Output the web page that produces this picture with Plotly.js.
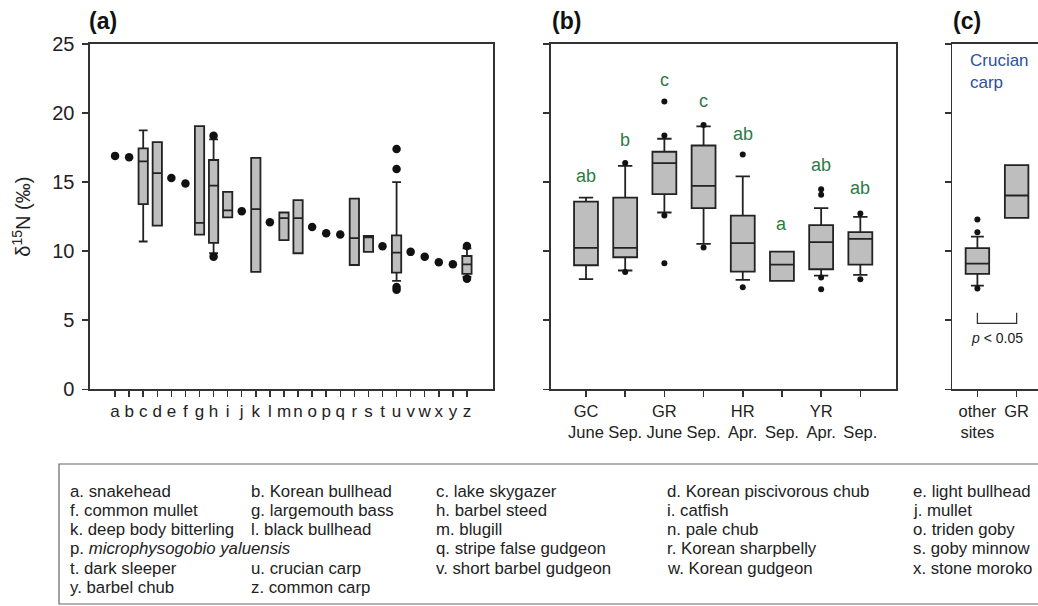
<!DOCTYPE html>
<html>
<head>
<meta charset="utf-8">
<script src="https://cdn.plot.ly/plotly-3.0.1.min.js"></script>
<style>html,body{margin:0;padding:0;background:#fff;}#chart{width:1038px;height:606px;}</style>
</head>
<body>
<div id="chart"></div>
<script>
// ---------- Panel (a): species ----------
const speciesCodes = ['a','b','c','d','e','f','g','h','i','j','k','l','m','n','o','p','q','r','s','t','u','v','w','x','y','z'];
const speciesNames = ['snakehead','Korean bullhead','lake skygazer','Korean piscivorous chub','light bullhead',
  'common mullet','largemouth bass','barbel steed','catfish','mullet',
  'deep body bitterling','black bullhead','blugill','pale chub','triden goby',
  '<i>microphysogobio yaluensis</i>','stripe false gudgeon','Korean sharpbelly','goby minnow',
  'dark sleeper','crucian carp','short barbel gudgeon','Korean gudgeon','stone moroko',
  'barbel chub','common carp'];

// single-value species
const singleCodes  = ['a','b','e','f','j','l','o','p','q','t','v','w','x','y'];
const singleValues = [16.9,16.8,15.3,14.9,12.9,12.1,11.75,11.3,11.2,10.35,9.95,9.6,9.2,9.05];

// box species
const boxCodes   = ['c','d','g','h','i','k','m','n','r','s','u','z'];
const boxQ1      = [13.4,11.85,11.2,10.6,12.45,8.5,10.8,9.85,9.0,9.95,8.45,8.35];
const boxMedian  = [16.5,15.65,12.05,14.75,12.95,13.05,12.4,12.4,10.95,11.0,9.9,9.05];
const boxQ3      = [17.45,17.9,19.05,16.6,14.3,16.75,12.8,13.7,13.8,11.1,11.15,9.65];
const boxLow     = [10.7,11.85,11.2,9.85,12.45,8.5,10.8,9.85,9.0,9.95,7.85,8.15];
const boxHigh    = [18.75,17.9,19.05,18.1,14.3,16.75,12.8,13.7,13.8,11.1,15.0,10.2];
const outACodes  = ['h','h','u','u','u','u','z','z'];
const outAValues = [18.35,9.6,17.4,15.95,7.4,7.2,10.38,8.0];

// ---------- Panel (b): sites ----------
const siteCats   = ['GC June','GC Sep.','GR June','GR Sep.','HR Apr.','HR Sep.','YR Apr.','YR Sep.'];
const siteTicks  = ['GC<br>June',' <br>Sep.','GR<br>June',' <br>Sep.','HR<br>Apr.',' <br>Sep.','YR<br>Apr.',' <br>Sep.'];
const siteQ1     = [8.98,9.56,14.13,13.11,8.52,7.85,8.69,9.03];
const siteMedian = [10.24,10.24,16.38,14.73,10.58,9.03,10.65,10.89];
const siteQ3     = [13.59,13.88,17.2,17.65,12.58,9.97,11.88,11.38];
const siteLow    = [7.97,8.6,12.8,10.53,7.92,7.85,8.23,8.28];
const siteHigh   = [13.88,16.18,18.14,19.03,15.41,9.97,13.11,12.49];
const outBCats   = ['GC Sep.','GC Sep.','GR June','GR June','GR June','GR June','GR Sep.','GR Sep.','HR Apr.','HR Apr.','YR Apr.','YR Apr.','YR Apr.','YR Apr.','YR Sep.','YR Sep.'];
const outBValues = [16.38,8.5,20.84,18.38,12.58,9.13,19.13,10.26,17.0,7.39,14.49,14.08,8.1,7.25,12.73,7.97];
const sigLetters = ['ab','b','c','c','ab','a','ab','ab'];
const sigY       = [15.41,18.07,22.4,20.84,18.5,11.98,16.25,14.61];

// ---------- Panel (c): crucian carp ----------
const carpCats   = ['other sites','GR'];
const carpTicks  = ['other<br>sites','GR'];
const carpQ1     = [8.35,12.41];
const carpMedian = [9.1,14.03];
const carpQ3     = [10.22,16.23];
const carpLow    = [7.5,12.41];
const carpHigh   = [11.06,16.23];
const outCCats   = ['other sites','other sites','other sites'];
const outCValues = [12.3,11.37,7.29];
const bracketTop = 5.55, bracketBottom = 4.78, pLabelY = 3.7;

// ---------- Styling ----------
const W = 1038, H = 606;
const FONT = 'Liberation Sans, Arial, Helvetica, sans-serif';
const INK = '#222';
const BOXFILL = '#bebebe';
const GREEN = '#2e7a48';
const BLUE = '#2c4fa3';
const px = v => v / W;
const py = v => 1 - v / H;
const yDom = [py(389.3), py(44)];

const boxStyle = {type:'box', orientation:'v', boxpoints:false, fillcolor:BOXFILL,
  line:{color:INK, width:1.8}, hoverinfo:'skip', showlegend:false};

const traces = [
  Object.assign({}, boxStyle, {x:boxCodes, q1:boxQ1, median:boxMedian, q3:boxQ3,
    lowerfence:boxLow, upperfence:boxHigh, width:0.66, whiskerwidth:0.95, xaxis:'x', yaxis:'y'}),
  {type:'scatter', mode:'markers', x:singleCodes, y:singleValues, xaxis:'x', yaxis:'y',
    marker:{color:'#111', size:8.5}, hoverinfo:'skip', showlegend:false},
  {type:'scatter', mode:'markers', x:outACodes, y:outAValues, xaxis:'x', yaxis:'y',
    marker:{color:'#111', size:8.5}, hoverinfo:'skip', showlegend:false},

  Object.assign({}, boxStyle, {x:siteCats, q1:siteQ1, median:siteMedian, q3:siteQ3,
    lowerfence:siteLow, upperfence:siteHigh, width:0.61, whiskerwidth:0.6, xaxis:'x2', yaxis:'y2'}),
  {type:'scatter', mode:'markers', x:outBCats, y:outBValues, xaxis:'x2', yaxis:'y2',
    marker:{color:'#111', size:6}, hoverinfo:'skip', showlegend:false},

  Object.assign({}, boxStyle, {x:carpCats, q1:carpQ1, median:carpMedian, q3:carpQ3,
    lowerfence:carpLow, upperfence:carpHigh, width:0.6, whiskerwidth:0.55, xaxis:'x3', yaxis:'y3'}),
  {type:'scatter', mode:'markers', x:outCCats, y:outCValues, xaxis:'x3', yaxis:'y3',
    marker:{color:'#111', size:6}, hoverinfo:'skip', showlegend:false}
];

const axisLine = {showline:true, linecolor:'#333', linewidth:1.6, showgrid:false, zeroline:false,
  ticks:'outside', ticklen:6, tickwidth:1.5, tickcolor:'#333'};

const yTicks = [0,5,10,15,20,25];

const layout = {
  width:W, height:H, margin:{l:0,r:0,t:0,b:0},
  paper_bgcolor:'#fff', plot_bgcolor:'#fff',
  font:{family:FONT, color:INK},
  xaxis: Object.assign({}, axisLine, {domain:[px(90), px(493)], anchor:'y', type:'category',
    categoryorder:'array', categoryarray:speciesCodes, range:[-1.78, 26.85], mirror:true,
    tickmode:'array', tickvals:speciesCodes, ticktext:speciesCodes, tickangle:0,
    tickfont:{size:17, color:INK}}),
  yaxis: Object.assign({}, axisLine, {domain:yDom, anchor:'x', range:[0,25], tickvals:yTicks,
    mirror:true, tickfont:{size:20, color:INK}, ticklabelstandoff:4,
    title:{text:'δ<sup>15</sup>N (‰)', font:{size:20, color:INK}, standoff:16}}),

  xaxis2: Object.assign({}, axisLine, {domain:[px(551), px(896)], anchor:'y2', type:'category',
    categoryorder:'array', categoryarray:siteCats, range:[-0.893, 7.91], mirror:true,
    tickmode:'array', tickvals:siteCats, ticktext:siteTicks, tickangle:0,
    tickfont:{size:16.5, color:INK}}),
  yaxis2: Object.assign({}, axisLine, {domain:yDom, anchor:'x2', range:[0,25], tickvals:yTicks,
    showticklabels:false, mirror:true}),

  xaxis3: Object.assign({}, axisLine, {domain:[px(952.3), 1], anchor:'y3', type:'category',
    categoryorder:'array', categoryarray:carpCats, range:[-0.64, 1.545], mirror:true,
    tickmode:'array', tickvals:carpCats, ticktext:carpTicks, tickangle:0,
    tickfont:{size:16.5, color:INK}}),
  yaxis3: Object.assign({}, axisLine, {domain:yDom, anchor:'x3', range:[0,25], tickvals:yTicks,
    showticklabels:false, mirror:false}),

  annotations: [],
  shapes: []
};

// panel labels
[['(a)',87],['(b)',550],['(c)',951]].forEach(([t,x]) => {
  layout.annotations.push({text:'<b>'+t+'</b>', xref:'paper', yref:'paper', x:px(x), y:py(21),
    xanchor:'left', yanchor:'middle', showarrow:false, font:{size:23, color:'#111'}});
});

// significance letters
sigLetters.forEach((t,i) => {
  layout.annotations.push({text:t, xref:'x2', yref:'y2', x:siteCats[i], y:sigY[i],
    showarrow:false, font:{size:18, color:GREEN}, xanchor:'center', yanchor:'middle'});
});

// Crucian carp label
layout.annotations.push({text:'Crucian<br>carp', xref:'paper', yref:'paper', x:px(968), y:py(49),
  xanchor:'left', yanchor:'top', align:'left', showarrow:false, font:{size:17, color:BLUE}});

// bracket + p-value
layout.shapes.push({type:'path', xref:'x3', yref:'y3',
  path:'M0,'+bracketTop+' L0,'+bracketBottom+' L1,'+bracketBottom+' L1,'+bracketTop,
  line:{color:'#333', width:1.3}});
layout.annotations.push({text:'<i>p</i> < 0.05', xref:'x3', yref:'y3', x:0.5, y:pLabelY,
  showarrow:false, font:{size:14, color:INK}, xanchor:'center', yanchor:'middle'});

// species key box
layout.shapes.push({type:'rect', xref:'paper', yref:'paper', x0:px(59), x1:1.02, y0:py(604), y1:py(464),
  line:{color:'#666', width:1.2}, fillcolor:'rgba(0,0,0,0)'});
const colX = [68, 249, 434, 665, 911];
const rowY0 = 491, rowStep = 19.3;
let slot = 0;
speciesCodes.forEach((c,i) => {
  const row = Math.floor(slot/5), col = slot % 5;
  layout.annotations.push({text:c+'. '+speciesNames[i], xref:'paper', yref:'paper',
    x:px(colX[col]), y:py(rowY0 + row*rowStep), xanchor:'left', yanchor:'middle',
    showarrow:false, font:{size:16.8, color:INK}});
  slot += (c === 'p') ? 2 : 1;
});

Plotly.newPlot('chart', traces, layout, {displayModeBar:false, staticPlot:true});
</script>
</body>
</html>
